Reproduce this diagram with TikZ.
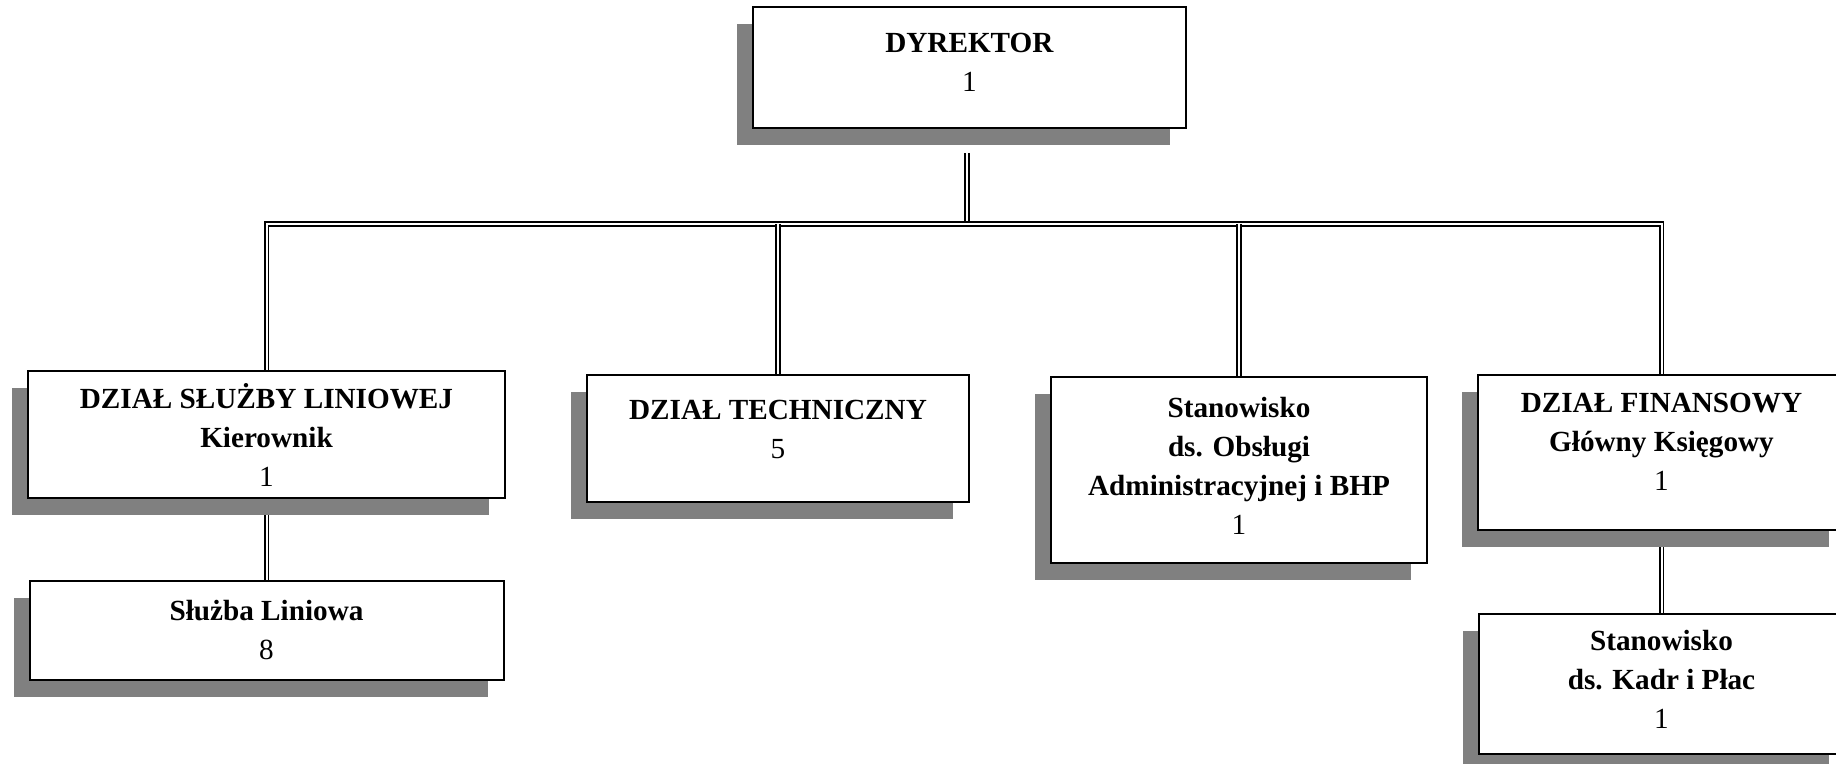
\documentclass[tikz,border=0pt]{standalone}
\usepackage{fontspec}
\setmainfont{Liberation Serif}
\usetikzlibrary{positioning,shadows,backgrounds}
\newcommand{\lift}[1]{\rule[-#1]{0pt}{#1}}

\begin{document}
\begin{tikzpicture}[x=0.5pt,y=-0.5pt,node distance=40.5pt,
  unit/.style={draw,rectangle,line width=1pt,fill=white,align=center,inner sep=0pt,
    font=\fontsize{14.6}{19.5}\selectfont,
    general shadow={fill=gray,shadow xshift=-8pt,shadow yshift=-8.5pt}},
  link/.style={double,line width=0.9pt,double distance=1pt}]
\useasboundingbox (0,0) rectangle (1836,764);
\node[unit,minimum width=216.5pt,minimum height=60.5pt] (dyr) at (969.5,67.5) {\textbf{DYREKTOR}\\1\lift{5pt}};
\node[unit,minimum width=238.5pt,minimum height=63.5pt] (lin) at (266.5,434.5) {\textbf{DZIAŁ SŁUŻBY LINIOWEJ}\\\textbf{Kierownik}\\1};
\node[unit,minimum width=237pt,minimum height=49.5pt] (sl) [below=of lin] {\textbf{Służba Liniowa}\\8};
\node[unit,minimum width=191pt,minimum height=63.5pt] (tech) at (778,438.5) {\textbf{DZIAŁ TECHNICZNY}\\5\lift{9.5pt}};
\node[unit,minimum width=188pt,minimum height=93pt] (bhp) at (1239,470) {\textbf{Stanowisko}\\\textbf{ds. Obsługi}\\\textbf{Administracyjnej i BHP}\\1\lift{4.5pt}};
\node[unit,minimum width=183.5pt,minimum height=77.5pt] (fin) at (1661.5,452.5) {\textbf{DZIAŁ FINANSOWY}\\\textbf{Główny Księgowy}\\1\lift{11pt}};
\node[unit,minimum width=183pt,minimum height=70pt] (kad) [below=41pt of fin] {\textbf{Stanowisko}\\\textbf{ds. Kadr i Płac}\\1\lift{5pt}};
\coordinate (top) at (967,153);
\coordinate (bus) at (967,224);
\begin{scope}[on background layer]
\draw[link] (top) -- (bus);
\draw[link] (lin.north) |- (bus) -| (fin.north);
\draw[link] (tech.north |- bus) -- (tech.north);
\draw[link] (bhp.north |- bus) -- (bhp.north);
\draw[link] (lin.south) -- (sl.north);
\draw[link] (fin.south) -- (kad.north);
\end{scope}
\end{tikzpicture}
\end{document}
